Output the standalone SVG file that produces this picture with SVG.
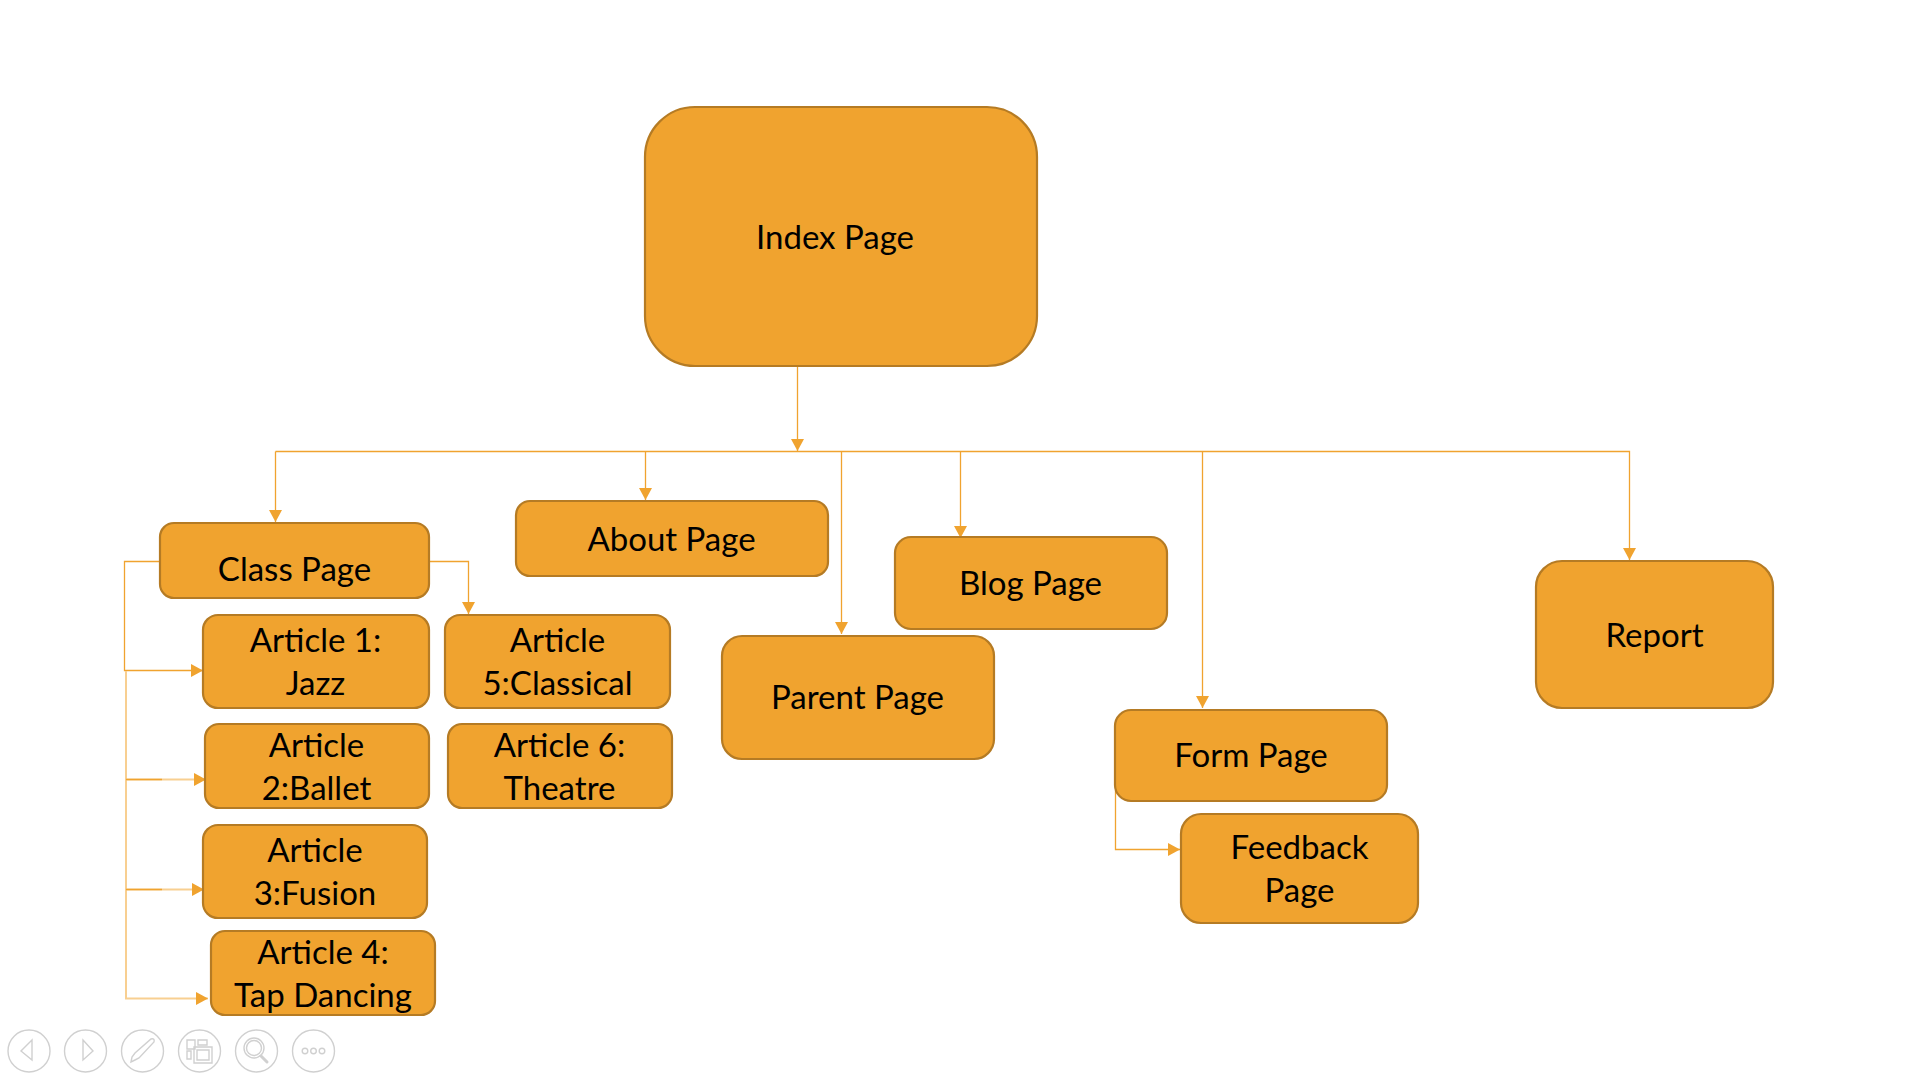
<svg xmlns="http://www.w3.org/2000/svg" width="1920" height="1080" viewBox="0 0 1920 1080">
<style>
.n{fill:#f0a32f;stroke:#b57b24;stroke-width:2.2}
.t{font-family:Lato,"Open Sans",sans-serif;font-size:33px;fill:#000;text-anchor:middle}
.c{fill:none;stroke:#f0a32f;stroke-width:1.3}
.l{fill:none;stroke:#f8cf91;stroke-width:2}
.i{fill:none;stroke:#d0d0d0;stroke-width:1.4}
</style>
<defs>
<marker id="a" markerUnits="userSpaceOnUse" markerWidth="13" markerHeight="14" refX="12" refY="7" orient="auto"><path d="M0 0.500L12 7L0 13.500Z" fill="#f0a32f"/></marker>
</defs>
<rect width="1920" height="1080" fill="#fff"/>
<g id="connectors">
<path class="c" d="M797.500 366V451" marker-end="url(#a)"/>
<path class="c" d="M275.500 451.500V522" marker-end="url(#a)"/>
<path class="c" d="M275.500 451.500H1629.500V560" marker-end="url(#a)"/>
<path class="c" d="M645.500 452V500" marker-end="url(#a)"/>
<path class="c" d="M841.500 452V634" marker-end="url(#a)"/>
<path class="c" d="M960.500 452V538" marker-end="url(#a)"/>
<path class="c" d="M1202.500 452V708" marker-end="url(#a)"/>
<path class="c" d="M159 561.500H124.500V670.500H203" marker-end="url(#a)"/>
<path class="l" d="M126 671V998.500H208" marker-end="url(#a)"/>
<path class="l" d="M126 779.500H206" marker-end="url(#a)"/>
<path class="l" d="M126 889.500H204" marker-end="url(#a)"/>
<path class="c" d="M126 779.500H162M126 889.500H162"/>
<path class="c" d="M429 561.500H468.500V614" marker-end="url(#a)"/>
<path class="c" d="M1115.500 790V849.500H1180" marker-end="url(#a)"/>
</g>
<g id="index"><rect class="n" x="645" y="107" width="392" height="259" rx="50"/><text class="t" x="835" y="249">Index Page</text></g>
<g id="class"><rect class="n" x="160" y="523" width="269" height="75" rx="14"/><text class="t" x="294.500" y="581">Class Page</text></g>
<g id="about"><rect class="n" x="516" y="501" width="312" height="75" rx="14"/><text class="t" x="671.500" y="551">About Page</text></g>
<g id="blog"><rect class="n" x="895" y="537" width="272" height="92" rx="16"/><text class="t" x="1030.500" y="595">Blog Page</text></g>
<g id="parent"><rect class="n" x="722" y="636" width="272" height="123" rx="20"/><text class="t" x="857.500" y="709">Parent Page</text></g>
<g id="report"><rect class="n" x="1536" y="561" width="237" height="147" rx="26"/><text class="t" x="1654.500" y="647">Report</text></g>
<g id="form"><rect class="n" x="1115" y="710" width="272" height="91" rx="16"/><text class="t" x="1251" y="767">Form Page</text></g>
<g id="feedback"><rect class="n" x="1181" y="814" width="237" height="109" rx="20"/><text class="t" x="1299.500" y="858.500">Feedback</text><text class="t" x="1299.500" y="901.500">Page</text></g>
<g id="article1"><rect class="n" x="203" y="615" width="226" height="93" rx="15"/><text class="t" x="315.500" y="652">Article 1:</text><text class="t" x="315.500" y="695">Jazz</text></g>
<g id="article2"><rect class="n" x="205" y="724" width="224" height="84" rx="14"/><text class="t" x="316.500" y="757">Article</text><text class="t" x="316.500" y="800">2:Ballet</text></g>
<g id="article3"><rect class="n" x="203" y="825" width="224" height="93" rx="15"/><text class="t" x="315" y="862">Article</text><text class="t" x="315" y="905">3:Fusion</text></g>
<g id="article4"><rect class="n" x="211" y="931" width="224" height="84" rx="14"/><text class="t" x="323" y="964">Article 4:</text><text class="t" x="323" y="1007">Tap Dancing</text></g>
<g id="article5"><rect class="n" x="445" y="615" width="225" height="93" rx="15"/><text class="t" x="557.500" y="652">Article</text><text class="t" x="557.500" y="695">5:Classical</text></g>
<g id="article6"><rect class="n" x="448" y="724" width="224" height="84" rx="14"/><text class="t" x="559.500" y="757">Article 6:</text><text class="t" x="559.500" y="800">Theatre</text></g>
<g id="toolbar">
<circle class="i" cx="29" cy="1051" r="21"/><path class="i" d="M32 1040L21 1051L32 1060Z"/>
<circle class="i" cx="85.500" cy="1051" r="21"/><path class="i" d="M83 1040L93 1051L83 1060Z"/>
<circle class="i" cx="142.500" cy="1051" r="21"/><path class="i" d="M131 1062L132 1057L135 1053L151 1039Q155 1038 154 1042L139 1058L135 1060Z"/>
<circle class="i" cx="199.500" cy="1051" r="21"/><path class="i" d="M187 1040H195V1049H187ZM198 1040H207V1045H198ZM187 1051H191V1059H187ZM194 1047H212V1063H194ZM197 1050H209V1060H197Z"/>
<circle class="i" cx="256.500" cy="1051" r="21"/><circle class="i" cx="254" cy="1048" r="10"/><circle class="i" cx="254" cy="1048" r="7.500"/><path class="i" stroke-linecap="round" d="M261 1056L267 1062" style="stroke-width:3"/>
<circle class="i" cx="313.500" cy="1051" r="21"/><circle class="i" cx="305" cy="1051" r="2.800"/><circle class="i" cx="313.500" cy="1051" r="2.800"/><circle class="i" cx="322" cy="1051" r="2.800"/>
</g>
</svg>
